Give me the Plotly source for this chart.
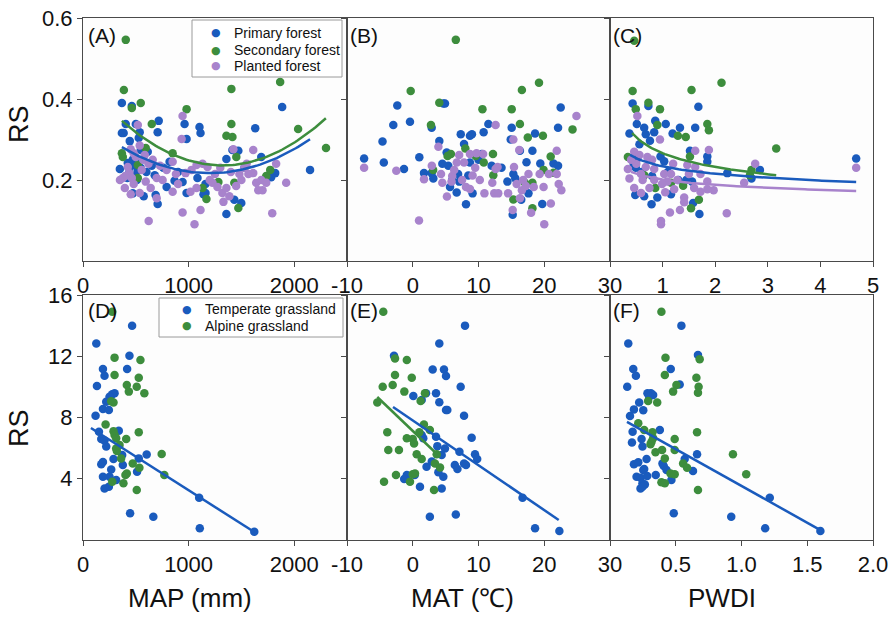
import numpy as np
import plotly.graph_objects as go

W, H = 888, 618
BLUE, GREEN, PURPLE = "#1a5bbd", "#3d8d3d", "#a883cc"
AXIS = "#4a4a4a"
FONT = "Liberation Sans, Arial, sans-serif"

# ---------------- forests (top row) ----------------
# (A) MAP (mm) vs RS
a_primary = [(368, 0.39), (462, 0.383), (368, 0.316), (385, 0.316), (500, 0.338), (717, 0.346), (707, 0.318),
             (962, 0.338), (981, 0.301), (1103, 0.331), (1113, 0.316), (1631, 0.328), (1886, 0.38), (2150, 0.225),
             (1820, 0.217), (1782, 0.207), (1358, 0.252), (1415, 0.274), (1471, 0.272), (1358, 0.116),
             (1499, 0.143), (1433, 0.151), (707, 0.141), (688, 0.163), (575, 0.16), (471, 0.167), (349, 0.227),
             (424, 0.242), (405, 0.338), (443, 0.296), (528, 0.304), (547, 0.274), (537, 0.318), (613, 0.27),
             (651, 0.235), (679, 0.212), (820, 0.245), (867, 0.198), (943, 0.195), (981, 0.168), (792, 0.183),
             (1084, 0.205), (1160, 0.168), (1141, 0.165), (1160, 0.19), (1528, 0.23), (1688, 0.257), (440, 0.22),
             (460, 0.235), (480, 0.21), (500, 0.245), (520, 0.225), (545, 0.23), (420, 0.205), (470, 0.25),
             (510, 0.2), (600, 0.22), (760, 0.23), (900, 0.22)]
a_secondary = [(405, 0.546), (387, 0.422), (462, 0.378), (547, 0.39), (651, 0.338), (981, 0.375), (1405, 0.425),
               (1405, 0.338), (1358, 0.309), (1415, 0.306), (1867, 0.442), (2037, 0.326), (2301, 0.279),
               (1452, 0.257), (594, 0.279), (368, 0.266), (377, 0.257), (519, 0.205), (519, 0.237), (1132, 0.18),
               (1169, 0.153), (1282, 0.195), (1433, 0.193), (1471, 0.131), (1735, 0.21), (1773, 0.225), (849, 0.266)]
a_planted = [(622, 0.099), (1056, 0.091), (943, 0.12), (1113, 0.126), (1792, 0.118), (943, 0.358), (934, 0.301),
             (519, 0.336), (1924, 0.193), (1829, 0.24), (1612, 0.274), (1424, 0.276), (1660, 0.175), (1700, 0.175),
             (1640, 0.193), (377, 0.205), (396, 0.18), (452, 0.165), (537, 0.168), (698, 0.155), (698, 0.205),
             (849, 0.171), (1018, 0.171), (1075, 0.18), (1226, 0.193), (1320, 0.168), (1330, 0.146), (1386, 0.16),
             (1358, 0.18), (1273, 0.183), (1481, 0.215), (1528, 0.23), (1566, 0.215), (1612, 0.217), (1688, 0.2),
             (1735, 0.193), (971, 0.217), (1028, 0.225), (1075, 0.237), (1132, 0.24), (1179, 0.232), (849, 0.245),
             (792, 0.225), (754, 0.2), (641, 0.18), (594, 0.196), (556, 0.225), (500, 0.257), (452, 0.276),
             (480, 0.266), (537, 0.285), (585, 0.262), (440, 0.217), (424, 0.232), (462, 0.205), (400, 0.21),
             (620, 0.24), (660, 0.25), (730, 0.235), (880, 0.215), (1250, 0.215), (1400, 0.22), (1500, 0.2),
             (1550, 0.24), (1450, 0.185), (1200, 0.2), (900, 0.19), (570, 0.25), (350, 0.2), (480, 0.19), (1300, 0.23)]
# quadratic fits: RS = k * (MAP - x0)^2 + y0, over [start, end]
a_fit_primary = (9.25e-8, 1200, 0.217, 368, 2150)
a_fit_secondary = (1.2137e-7, 1320, 0.236, 368, 2300)

# (B) MAT vs RS
b_primary = [(-7.4, 0.253), (-4.4, 0.243), (-4.6, 0.295), (-2.96, 0.336), (-2.35, 0.384), (-0.42, 0.344),
             (-1.33, 0.227), (1.0, 0.256), (1.71, 0.217), (2.88, 0.217), (3.13, 0.204), (2.88, 0.329), (4.65, 0.389),
             (4.04, 0.296), (4.5, 0.24), (5.16, 0.268), (5.4, 0.235), (5.67, 0.183), (6.68, 0.169), (7.08, 0.196),
             (6.9, 0.215), (7.3, 0.313), (7.8, 0.289), (8.1, 0.14), (8.7, 0.309), (9.0, 0.313), (8.7, 0.243),
             (8.45, 0.211), (9.1, 0.167), (10.78, 0.318), (10.5, 0.264), (11.5, 0.338), (12.0, 0.235), (15.05, 0.329),
             (14.9, 0.3), (16.3, 0.272), (15.3, 0.215), (14.4, 0.196), (15.2, 0.114), (16.5, 0.151), (17.3, 0.244),
             (18.6, 0.315), (18.2, 0.272), (19.4, 0.241), (19.7, 0.141), (21.4, 0.241), (22.1, 0.235), (22.1, 0.329),
             (22.5, 0.379), (17.6, 0.167), (15.6, 0.204), (4.9, 0.389), (6.0, 0.2), (10.0, 0.25), (13.5, 0.23)]
b_secondary = [(6.55, 0.546), (-0.31, 0.42), (4.04, 0.391), (2.77, 0.336), (10.6, 0.375), (15.05, 0.375),
               (16.6, 0.422), (19.2, 0.44), (16.3, 0.338), (17.5, 0.305), (19.8, 0.309), (24.3, 0.325),
               (20.98, 0.258), (21.4, 0.218), (19.9, 0.225), (12.25, 0.212), (12.2, 0.264), (10.8, 0.243),
               (9.57, 0.259), (8.0, 0.278), (5.8, 0.264), (5.3, 0.259), (3.1, 0.225), (15.3, 0.152), (17.06, 0.193),
               (18.2, 0.193), (18.2, 0.13)]
b_planted = [(-7.4, 0.23), (-2.5, 0.223), (0.95, 0.1), (1.71, 0.202), (2.9, 0.235), (3.9, 0.282), (4.5, 0.193),
             (5.2, 0.159), (6.0, 0.21), (7.06, 0.262), (7.8, 0.243), (8.1, 0.183), (8.7, 0.264), (9.1, 0.211),
             (9.7, 0.266), (10.2, 0.2), (10.7, 0.264), (10.9, 0.167), (12.1, 0.193), (12.4, 0.167), (12.6, 0.336),
             (13.0, 0.167), (12.6, 0.227), (14.5, 0.167), (15.3, 0.3), (15.2, 0.126), (16.2, 0.274), (16.3, 0.155),
             (16.6, 0.175), (17.6, 0.215), (18.0, 0.119), (18.4, 0.183), (19.3, 0.215), (20.0, 0.091), (21.0, 0.142),
             (19.9, 0.183), (20.7, 0.215), (21.9, 0.272), (22.2, 0.19), (22.6, 0.175), (24.9, 0.358), (21.9, 0.215),
             (15.4, 0.232), (4.3, 0.215), (6.3, 0.225), (5.9, 0.196), (6.7, 0.243), (8.7, 0.178), (12.9, 0.232),
             (16.8, 0.2), (17.2, 0.185), (15.8, 0.19), (7.5, 0.2), (9.5, 0.23)]

# (C) PWDI vs RS
c_primary = [(0.43, 0.389), (0.73, 0.383), (0.51, 0.338), (0.37, 0.315), (0.65, 0.329), (0.68, 0.313),
             (0.86, 0.346), (1.06, 0.338), (0.76, 0.297), (0.84, 0.318), (1.19, 0.315), (1.33, 0.329), (1.62, 0.329),
             (1.68, 0.381), (1.85, 0.258), (1.52, 0.272), (0.96, 0.258), (1.03, 0.246), (2.23, 0.217), (2.85, 0.225),
             (2.69, 0.204), (4.68, 0.253), (0.79, 0.14), (0.65, 0.16), (0.48, 0.163), (1.16, 0.165), (1.58, 0.143),
             (1.7, 0.116), (1.56, 0.196), (0.9, 0.157), (0.52, 0.254), (0.49, 0.23), (0.56, 0.288), (0.45, 0.24),
             (0.6, 0.22), (0.8, 0.21), (1.1, 0.22), (1.3, 0.2), (1.45, 0.2), (1.85, 0.245)]
c_secondary = [(0.46, 0.544), (0.43, 0.42), (0.49, 0.375), (0.73, 0.391), (0.95, 0.375), (0.9, 0.336),
               (1.55, 0.422), (2.12, 0.44), (1.85, 0.338), (1.88, 0.323), (1.29, 0.309), (1.44, 0.306),
               (1.52, 0.258), (3.16, 0.278), (2.69, 0.225), (2.66, 0.212), (1.69, 0.151), (1.54, 0.13), (0.86, 0.18),
               (0.65, 0.212), (1.16, 0.193), (1.39, 0.186), (0.34, 0.257)]
c_planted = [(0.52, 0.358), (0.95, 0.3), (0.37, 0.204), (0.46, 0.18), (0.59, 0.168), (0.97, 0.099), (0.97, 0.091),
             (1.14, 0.12), (1.33, 0.126), (2.22, 0.118), (1.97, 0.175), (1.85, 0.177), (1.72, 0.171), (2.76, 0.24),
             (2.55, 0.193), (4.68, 0.23), (1.88, 0.274), (1.62, 0.272), (1.47, 0.237), (1.5, 0.215), (1.28, 0.2),
             (1.41, 0.157), (1.41, 0.145), (1.09, 0.196), (1.03, 0.215), (0.84, 0.227), (0.68, 0.232), (0.56, 0.262),
             (0.46, 0.27), (0.71, 0.257), (0.84, 0.2), (0.59, 0.215), (0.34, 0.227), (1.16, 0.215), (1.72, 0.215),
             (1.62, 0.232), (1.85, 0.196), (1.22, 0.177), (0.99, 0.19), (0.75, 0.18), (0.5, 0.24), (0.62, 0.2),
             (1.05, 0.17), (1.6, 0.18), (0.4, 0.25), (0.8, 0.25), (1.2, 0.24)]
# power fits: RS = a * PWDI^b, over [start, end]
c_fit_primary = (0.2338, -0.1177, 0.38, 4.68)
c_fit_secondary = (0.2661, -0.198, 0.42, 3.16)
c_fit_planted = (0.2011, -0.0978, 0.40, 4.68)

# ---------------- grasslands (bottom row) ----------------
# (D) MAP vs RS
d_temperate = [(126, 12.84), (465, 13.99), (189, 11.17), (204, 10.73), (132, 10.06), (440, 12.04), (418, 11.17),
               (299, 9.58), (277, 9.52), (251, 9.36), (220, 9.03), (189, 8.55), (245, 8.49), (119, 8.12),
               (151, 7.07), (173, 6.6), (204, 6.49), (220, 6.1), (339, 7.14), (289, 5.29), (371, 5.55), (377, 4.9),
               (173, 4.94), (189, 5.1), (267, 4.61), (251, 4.13), (189, 4.13), (245, 3.48), (204, 3.37), (512, 4.46),
               (603, 5.59), (528, 5.33), (446, 1.74), (666, 1.52), (1100, 2.76), (1106, 0.76), (1622, 0.54),
               (314, 3.92)]
d_alpine = [(277, 14.9), (299, 11.91), (299, 10.78), (544, 11.76), (528, 10.6), (415, 10.12), (509, 10.01),
            (434, 9.69), (581, 9.58), (289, 8.98), (267, 9.06), (214, 7.55), (289, 7.11), (299, 6.86), (314, 6.64),
            (409, 6.6), (528, 7.03), (321, 5.81), (314, 5.98), (361, 5.33), (402, 4.24), (415, 4.35), (471, 5.0),
            (534, 4.72), (277, 3.81), (383, 3.7), (509, 3.27), (745, 5.62), (770, 4.24), (346, 6.2)]
# linear fits: RS = m * x + c, over [start, end]
d_fit_temperate = (-0.004389, 7.64, 75, 1622)

# (E) MAT vs RS
e_temperate = [(7.95, 14.0), (4.04, 12.84), (-2.85, 12.04), (3.03, 11.14), (4.75, 11.14), (5.06, 10.71),
               (7.29, 10.01), (0.09, 9.41), (2.02, 9.58), (3.54, 9.58), (1.36, 9.15), (4.04, 8.99), (5.06, 8.49),
               (5.26, 8.49), (7.8, 8.12), (8.96, 6.68), (1.36, 6.85), (3.54, 6.74), (3.74, 6.13), (4.9, 5.98),
               (7.1, 5.77), (7.8, 5.0), (9.47, 5.6), (9.8, 5.29), (8.1, 4.9), (6.4, 4.9), (6.8, 4.64), (4.4, 5.55),
               (3.9, 4.42), (4.65, 4.13), (4.4, 3.37), (2.1, 4.79), (2.9, 5.12), (1.1, 3.48), (0.3, 4.24),
               (-0.9, 4.24), (-1.3, 3.98), (2.6, 1.52), (6.55, 1.67), (16.7, 2.76), (18.6, 0.76), (22.3, 0.59),
               (1.6, 6.64)]
e_alpine = [(-4.48, 14.9), (-2.7, 11.86), (-0.9, 11.76), (-2.7, 10.78), (-0.15, 10.6), (-4.57, 10.01),
            (-3.05, 10.12), (-1.28, 9.69), (1.86, 9.58), (1.2, 9.08), (-5.39, 8.98), (1.7, 7.55), (2.6, 7.18),
            (1.0, 7.03), (-0.9, 6.64), (0.0, 6.59), (0.2, 6.3), (-3.87, 7.03), (-3.72, 5.88), (-2.1, 5.88),
            (0.6, 5.6), (1.36, 5.29), (3.64, 5.6), (4.15, 4.73), (3.38, 5.0), (-2.55, 4.24), (-0.42, 3.81),
            (0.34, 4.35), (-4.37, 3.81), (3.23, 3.27), (0.0, 4.29)]
e_fit_temperate = (-0.2929, 7.81, -3.0, 22.2)
e_fit_alpine = (-0.4105, 7.123, -5.4, 4.15)

# (F) PWDI vs RS
f_temperate = [(0.139, 12.84), (0.543, 14.0), (0.669, 12.08), (0.177, 11.17), (0.197, 10.73), (0.462, 11.17),
               (0.53, 10.16), (0.131, 10.01), (0.285, 9.58), (0.311, 9.58), (0.328, 9.47), (0.298, 9.36),
               (0.222, 8.98), (0.182, 8.53), (0.253, 8.47), (0.152, 8.1), (0.379, 7.18), (0.172, 7.07), (0.24, 6.59),
               (0.247, 6.1), (0.167, 6.36), (0.278, 5.29), (0.182, 4.94), (0.215, 5.07), (0.253, 4.57), (0.26, 4.64),
               (0.399, 5.0), (0.409, 4.83), (0.43, 4.57), (0.348, 4.24), (0.202, 4.13), (0.232, 4.07), (0.283, 4.18),
               (0.247, 3.7), (0.265, 3.63), (0.232, 3.37), (0.247, 3.48), (0.467, 3.92), (0.568, 5.29),
               (0.631, 4.51), (0.662, 5.6), (0.485, 1.74), (0.922, 1.52), (1.215, 2.76), (1.18, 0.76), (1.6, 0.59)]
f_alpine = [(0.391, 14.9), (0.422, 11.9), (0.682, 11.8), (0.417, 10.78), (0.505, 10.12), (0.48, 9.69),
            (0.657, 10.6), (0.674, 10.01), (0.669, 9.62), (0.29, 9.08), (0.359, 8.98), (0.215, 7.62), (0.26, 7.18),
            (0.323, 7.03), (0.316, 6.42), (0.308, 6.25), (0.328, 6.64), (0.346, 5.73), (0.396, 5.88), (0.417, 5.33),
            (0.492, 6.59), (0.492, 5.88), (0.662, 7.03), (0.556, 5.0), (0.586, 4.72), (0.46, 4.35), (0.492, 4.29),
            (0.391, 3.77), (0.417, 3.7), (0.669, 3.27), (0.935, 5.6), (1.036, 4.29)]
f_fit_temperate = (-4.8, 8.33, 0.129, 1.6)

forest_names = ["Primary forest", "Secondary forest", "Planted forest"]
grass_names = ["Temperate grassland", "Alpine grassland"]
panel_tags = ["(A)", "(B)", "(C)", "(D)", "(E)", "(F)"]
x_titles = ["MAP (mm)", "MAT (\u2103)", "PWDI"]


def px_x(px):
    return px / W


def px_y(py):
    return 1 - py / H


fig = go.Figure()


def scatter(pts, color, n):
    x, y = zip(*pts)
    fig.add_trace(go.Scatter(x=x, y=y, mode="markers", showlegend=False,
                             marker=dict(color=color, size=8.5),
                             xaxis="x" if n == 1 else f"x{n}", yaxis="y" if n == 1 else f"y{n}"))


def line(x, y, color, n):
    fig.add_trace(go.Scatter(x=x, y=y, mode="lines", showlegend=False,
                             line=dict(color=color, width=2.5),
                             xaxis="x" if n == 1 else f"x{n}", yaxis="y" if n == 1 else f"y{n}"))


def quad(fit, color, n):
    k, x0, y0, s, e = fit
    x = np.linspace(s, e, 80)
    line(x, k * (x - x0) ** 2 + y0, color, n)


def power(fit, color, n):
    a, b, s, e = fit
    x = np.linspace(s, e, 80)
    line(x, a * x ** b, color, n)


def linear(fit, color, n):
    m, c, s, e = fit
    x = np.array([s, e])
    line(x, m * x + c, color, n)


# top row
for pts, col in [(a_primary, BLUE), (a_secondary, GREEN), (a_planted, PURPLE)]:
    scatter(pts, col, 1)
quad(a_fit_secondary, GREEN, 1)
quad(a_fit_primary, BLUE, 1)
for pts, col in [(b_primary, BLUE), (b_secondary, GREEN), (b_planted, PURPLE)]:
    scatter(pts, col, 2)
for pts, col in [(c_primary, BLUE), (c_secondary, GREEN), (c_planted, PURPLE)]:
    scatter(pts, col, 3)
power(c_fit_planted, PURPLE, 3)
power(c_fit_secondary, GREEN, 3)
power(c_fit_primary, BLUE, 3)

# bottom row
scatter(d_temperate, BLUE, 4)
scatter(d_alpine, GREEN, 4)
linear(d_fit_temperate, BLUE, 4)
scatter(e_temperate, BLUE, 5)
scatter(e_alpine, GREEN, 5)
linear(e_fit_alpine, GREEN, 5)
linear(e_fit_temperate, BLUE, 5)
scatter(f_temperate, BLUE, 6)
scatter(f_alpine, GREEN, 6)
linear(f_fit_temperate, BLUE, 6)

cols = [(83, 347), (347, 610), (610, 873)]
rows = [(18, 261), (295, 540)]
x_ranges = [[0, 2500], [-10, 30], [0, 5], [0, 2500], [-10, 30], [0, 2]]
x_ticks = [([0, 1000, 2000], ["0", "1000", "2000"]),
           ([-10, 0, 10, 20, 30], ["-10", "0", "10", "20", "30"]),
           ([0, 1, 2, 3, 4, 5], ["", "1", "2", "3", "4", "5"]),
           ([0, 1000, 2000], ["0", "1000", "2000"]),
           ([-10, 0, 10, 20, 30], ["-10", "0", "10", "20", "30"]),
           ([0, 0.5, 1, 1.5, 2], ["", "0.5", "1.0", "1.5", "2.0"])]
y_ranges = [[0, 0.6], [0, 16]]
y_ticks = [([0.2, 0.4, 0.6], ["0.2", "0.4", "0.6"]), ([4, 8, 12, 16], ["4", "8", "12", "16"])]

axis_style = dict(showline=True, linecolor=AXIS, linewidth=1, mirror=True, ticks="outside", ticklen=5,
                  tickcolor=AXIS, showgrid=False, zeroline=False, automargin=False, ticklabeloverflow="allow",
                  tickfont=dict(family=FONT, size=22, color="#111111"))

layout = {}
for i in range(6):
    n = i + 1
    r, c = divmod(i, 3)
    xs = "" if n == 1 else str(n)
    layout[f"xaxis{xs}"] = dict(axis_style, domain=[px_x(cols[c][0]), px_x(cols[c][1])],
                                 range=x_ranges[i], tickvals=x_ticks[i][0], ticktext=x_ticks[i][1],
                                 anchor=f"y{xs}")
    layout[f"yaxis{xs}"] = dict(axis_style, domain=[px_y(rows[r][1]), px_y(rows[r][0])],
                                 range=y_ranges[r], tickvals=y_ticks[r][0], ticktext=y_ticks[r][1],
                                 showticklabels=(c == 0), anchor=f"x{xs}")

annotations = []
shapes = []


def note(text, px, py, size, xanchor="center", color="#111111", family=FONT, angle=0):
    annotations.append(dict(text=text, x=px_x(px), y=px_y(py), xref="paper", yref="paper",
                            xanchor=xanchor, yanchor="middle", showarrow=False, textangle=angle,
                            font=dict(family=family, size=size, color=color)))


tag_pos = [(86, 36), (348, 36), (611, 36), (86, 310), (348, 310), (611, 310)]
for tag, (tx, ty) in zip(panel_tags, tag_pos):
    note(tag, tx, ty, 21, xanchor="left")

for ty in (124, 428):
    note("RS", 19, ty, 27, angle=-90)
for t, tx in zip(x_titles, (190, 463, 722)):
    note(t, tx, 598, 26)

# legends drawn as boxed keys
legend_specs = [
    ((192, 20, 342, 77), forest_names, [BLUE, GREEN, PURPLE], [33, 50, 66], 216, 232),
    ((159, 298, 343, 337), grass_names, [BLUE, GREEN], [309, 326], 187, 203),
]
for (x0, y0, x1, y1), names, colors, ys, mx, tx in legend_specs:
    shapes.append(dict(type="rect", xref="paper", yref="paper", x0=px_x(x0), x1=px_x(x1),
                       y0=px_y(y1), y1=px_y(y0), line=dict(color="#9a9a9a", width=1), fillcolor="white"))
    for name, col, yy in zip(names, colors, ys):
        note("\u25cf", mx, yy, 11, color=col, family="DejaVu Sans")
        note(name, tx, yy, 14, xanchor="left")

fig.update_layout(width=W, height=H, margin=dict(l=0, r=0, t=0, b=0), paper_bgcolor="white",
                  plot_bgcolor="#fdfdfd", showlegend=False, annotations=annotations, shapes=shapes,
                  font=dict(family=FONT), **layout)

fig.write_html("out.html", config={"displayModeBar": False},
               post_script="document.body.style.margin='0';document.body.style.overflow='hidden';")
